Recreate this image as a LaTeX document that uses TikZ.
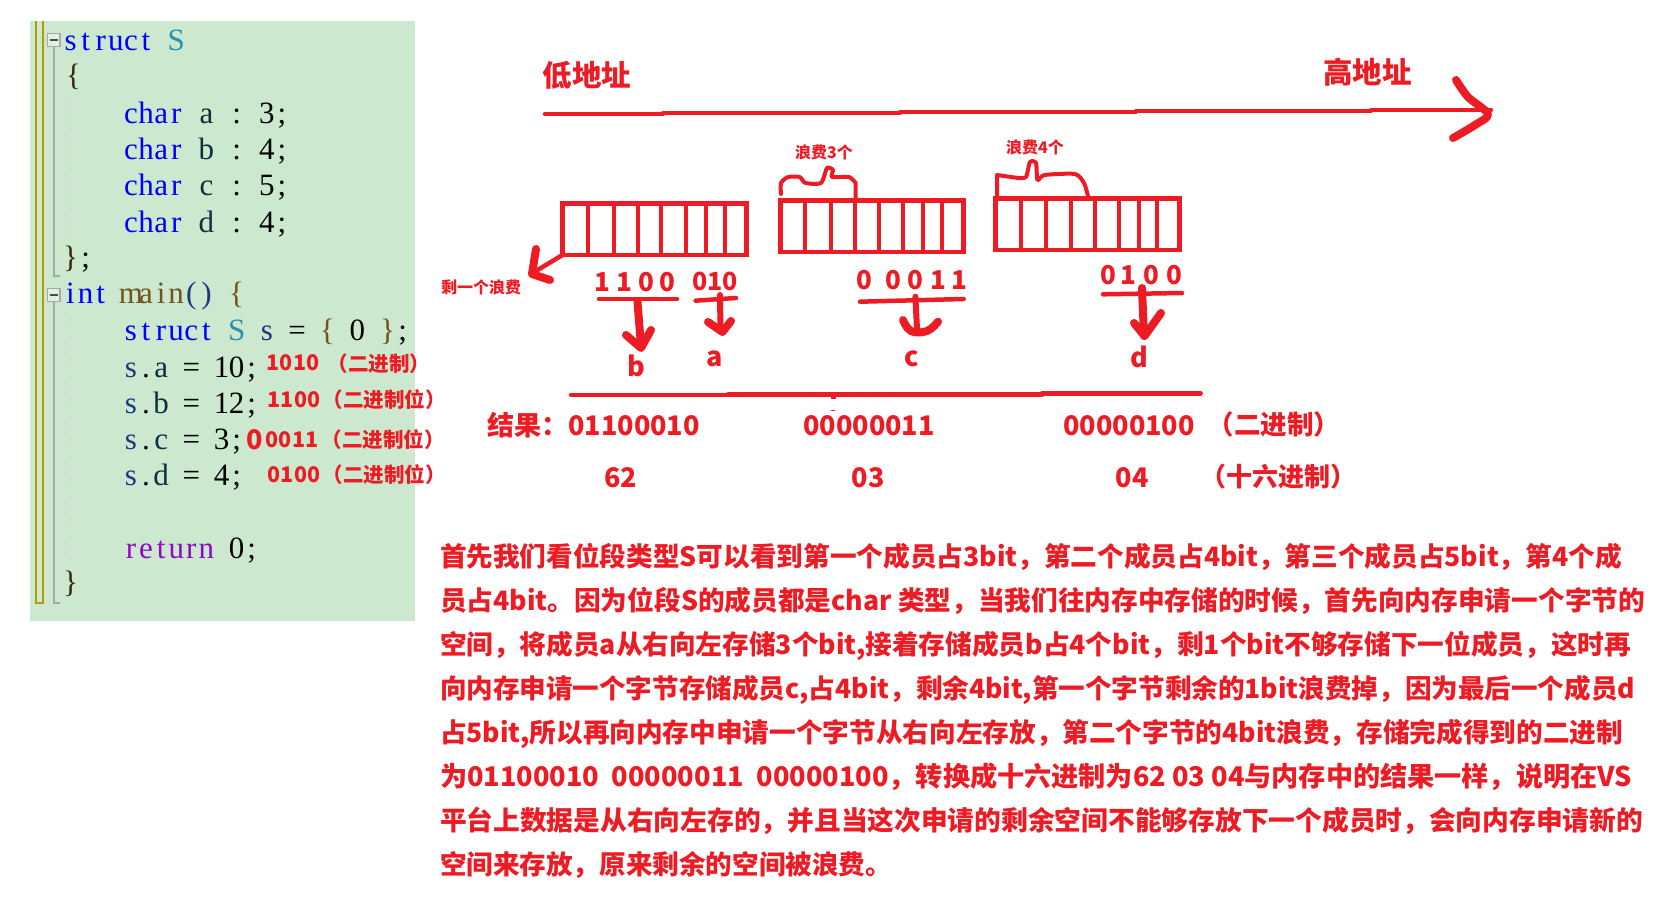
\documentclass[tikz,border=0pt]{standalone}
\usepackage{fontspec}
\setmainfont{Noto Sans CJK SC}
\newfontfamily\codefont{Liberation Serif}
\usetikzlibrary{calc}
\definecolor{rd}{HTML}{ED1C24}
\definecolor{panel}{HTML}{CCE8CF}
\definecolor{kw}{HTML}{0000FF}
\definecolor{ty}{HTML}{2B91AF}
\definecolor{fn}{HTML}{74531F}
\definecolor{var}{HTML}{1F377F}
\definecolor{mem}{HTML}{0F2F3F}
\definecolor{ret}{HTML}{8F08C4}
\definecolor{olive}{HTML}{B59A00}
\definecolor{gutter}{HTML}{A8A8A8}
\definecolor{guide}{HTML}{DDD8DF}
\makeatletter
\newcommand\monotext[1]{\@tfor\mch:=#1\do{\makebox[15.1pt][c]{\mch}}}
\makeatother
\newcount\nodeno
\newcommand\cd[4]{\global\advance\nodeno by 1
  \node[codetext,text=#3] (c\the\nodeno) at ({63+15.1*#1},{#2+0.7}) {\monotext{#4}};}
\newcommand\rt[4]{\global\advance\nodeno by 1
  \node[redtext,anchor=center] (r\the\nodeno) at (#1,#2) {\fontsize{#3}{#3}\selectfont #4};}
\newcommand\bl[3]{\global\advance\nodeno by 1
  \node[redtext,anchor=base west] (b\the\nodeno) at (440,#1) {\resizebox{#2pt}{!}{\fontsize{26.7}{30}\selectfont #3}};}
\tikzset{
  codetext/.style={anchor=base west,inner sep=0pt,outer sep=0pt,font=\codefont\fontsize{31}{31}\selectfont},
  redtext/.style={inner sep=0pt,outer sep=0pt,text=rd,font=\bfseries},
  pen/.style={draw=rd,line width=4.5pt,line cap=round,line join=round},
  midpen/.style={draw=rd,line width=6pt,line cap=round,line join=round},
  fatpen/.style={draw=rd,line width=8pt,line cap=round,line join=round},
  thinpen/.style={draw=rd,line width=4pt,line cap=round,line join=round},
  membox/.style={draw=rd,line width=4.5pt,inner sep=0pt,outer sep=0pt,minimum height=51.5pt},
  divider/.style={draw=rd,line width=4pt},
  foldbox/.style={draw=gutter,line width=1.5pt,fill=panel!60!white,minimum width=12.5pt,minimum height=13pt,inner sep=0pt},
}
\begin{document}
\begin{tikzpicture}[x=1pt,y=-1pt]
\useasboundingbox (0,0) rectangle (1674,912);
% code panel
\fill[panel] (30,21) rectangle (415,621);
\draw[olive,line width=2pt] (36,21) -- (36,603) -- (42.5,603) -- (42.5,21);
\draw[gutter,line width=1.5pt] (54,47) -- (54,276) -- (60,276);
\draw[gutter,line width=1.5pt] (54,302) -- (54,603) -- (60,603);
\draw[guide,line width=1.5pt,dash pattern=on 5pt off 5pt] (70,97) -- (70,240);
\draw[guide,line width=1.5pt,dash pattern=on 5pt off 5pt] (70,315) -- (70,565);
\node[foldbox] (fold1) at (53.5,40) {};
\draw[black!70,line width=1.2pt] (49.5,40) -- (57.5,40);
\node[foldbox] (fold2) at (53.5,295) {};
\draw[black!70,line width=1.2pt] (49.5,295) -- (57.5,295);
\cd{0}{50}{kw}{struct}\cd{7}{50}{ty}{S}
\cd{0.2}{85}{fn!50!black}{\{}
\cd{4}{123}{kw}{char}\cd{9}{123}{mem}{a}\cd{11}{123}{black}{:}\cd{13}{123}{black}{3;}
\cd{4}{159}{kw}{char}\cd{9}{159}{mem}{b}\cd{11}{159}{black}{:}\cd{13}{159}{black}{4;}
\cd{4}{195}{kw}{char}\cd{9}{195}{mem}{c}\cd{11}{195}{black}{:}\cd{13}{195}{black}{5;}
\cd{4}{232}{kw}{char}\cd{9}{232}{mem}{d}\cd{11}{232}{black}{:}\cd{13}{232}{black}{4;}
\cd{0}{267}{fn!50!black}{\}}\cd{1}{267}{black}{;}
\cd{0}{303}{kw}{int}\cd{4}{303}{fn}{main}\cd{8}{303}{var}{()}\cd{11}{303}{fn}{\{}
\cd{4}{340}{kw}{struct}\cd{11}{340}{ty}{S}\cd{13}{340}{var}{s}\cd{15}{340}{black}{=}\cd{17}{340}{fn}{\{}\cd{19}{340}{black}{0}\cd{21}{340}{fn}{\}}\cd{22}{340}{black}{;}
\cd{4}{377}{var}{s}\cd{5}{377}{black}{.}\cd{6}{377}{mem}{a}\cd{8}{377}{black}{=}\cd{10}{377}{black}{10;}
\cd{4}{413}{var}{s}\cd{5}{413}{black}{.}\cd{6}{413}{mem}{b}\cd{8}{413}{black}{=}\cd{10}{413}{black}{12;}
\cd{4}{449}{var}{s}\cd{5}{449}{black}{.}\cd{6}{449}{mem}{c}\cd{8}{449}{black}{=}\cd{10}{449}{black}{3;}
\cd{4}{485}{var}{s}\cd{5}{485}{black}{.}\cd{6}{485}{mem}{d}\cd{8}{485}{black}{=}\cd{10}{485}{black}{4;}
\cd{4}{558}{ret}{return}\cd{11}{558}{black}{0;}
\cd{0}{592}{fn!50!black}{\}}
% annotations beside the code
\rt{293}{363}{21.5}{1010}\rt{379}{364}{20.5}{（二进制）}
\rt{294}{399.5}{21.5}{1100}\rt{384}{400}{20.5}{（二进制位）}
\rt{255}{440}{27}{0}\rt{292}{439.5}{21.5}{0011}\rt{383}{440}{20.5}{（二进制位）}
\rt{294}{474.5}{21.5}{0100}\rt{384}{475}{20.5}{（二进制位）}
% address axis
\coordinate (ax0) at (545,114);
\coordinate (ax1) at (1491,110);
\draw[pen] (ax0) -- (663,114) (663,113) -- (900,113) (900,112) -- (1136,112) (1136,111) -- (1371,111) (1371,110) -- (ax1);
\draw[fatpen] plot[smooth,tension=.5] coordinates {(1456,80) (1468,97) (1488,114) (1475,125) (1453,138)};
\rt{587}{75.5}{29.5}{低地址}
\rt{1367.5}{72.5}{29.5}{高地址}
% bytes
\node[membox,minimum width=184pt,anchor=north west] (byte1) at (562.5,203.5) {};
\foreach \x in {588,614,638,661,686,705.5,724.5} \draw[divider] (\x,0 |- byte1.north) -- (\x,0 |- byte1.south);
\node[membox,minimum width=183pt,anchor=north west] (byte2) at (780.5,200.5) {};
\foreach \x in {805,831,855,879,903,923,942} \draw[divider] (\x,0 |- byte2.north) -- (\x,0 |- byte2.south);
\node[membox,minimum width=184pt,anchor=north west] (byte3) at (995.5,198.5) {};
\foreach \x in {1021,1046,1071,1095,1118.6,1138.6,1157} \draw[divider] (\x,0 |- byte3.north) -- (\x,0 |- byte3.south);
% braces
\draw[thinpen] plot[smooth,tension=.4] coordinates {(781,194) (781,183) (788,177) (799.6,177) (805.5,183) (821,183) (827,168) (833,170) (832,177) (849,177) (855.7,183)} -- (855.7,198);
\rt{824}{152}{16}{浪费3个}
\draw[thinpen] (997,196) -- (997,175) -- (1018,178) plot[smooth,tension=.4] coordinates {(1018,178) (1026,177) (1030,162) (1036,163) (1037.5,180) (1044.6,175) (1075,174) (1084,183) (1088,196)};
\rt{1035}{147}{16}{浪费4个}
% left-over arrow
\coordinate (rest) at (531,274);
\draw[pen] (byte1.south west) -- (rest);
\draw[fatpen] (536,249) -- (532,274) -- (550,280);
\rt{481}{287}{16}{剩一个浪费}
% bit labels
\foreach \x/\t in {602/1,624/1,646/0,667/0} \node[redtext,anchor=center] at (\x,282) {\fontsize{26}{26}\selectfont \t};
\rt{715}{281}{25}{010}
\foreach \x/\t in {864.5/0,893/0,915/0,938/1,959/1} \node[redtext,anchor=center] at (\x,280) {\fontsize{26}{26}\selectfont \t};
\foreach \x/\t in {1108/0,1128.6/1,1151/0,1174/0} \node[redtext,anchor=center] at (\x,275) {\fontsize{26}{26}\selectfont \t};
% group underlines and arrows
\draw[pen] (599,299) -- (677,299);
\draw[fatpen] (637.5,302) -- (641,346);
\draw[fatpen] (626,335) -- (641,348) -- (651,330);
\draw[pen] (695.6,300.7) -- (736,298);
\draw[midpen] (720,295) -- (720.5,331);
\draw[fatpen] (708,322) -- (722.5,332) -- (731,321);
\draw[pen] (860,301.7) -- (963.6,299);
\draw[midpen] (915.4,296.7) -- (917,329);
\draw[fatpen] plot[smooth,tension=.7] coordinates {(903,320) (911,331) (927,331) (938,321.7)};
\draw[pen] (1103,294.3) -- (1182,293);
\draw[fatpen] (1142,288) -- (1144,336);
\draw[fatpen] (1134,323) -- (1144.6,336) -- (1161,313);
\rt{636}{366}{27}{b}
\rt{714.6}{359}{27}{a}
\rt{911.4}{359}{27}{c}
\rt{1139}{357}{27}{d}
% result rule
\draw[pen] (571,395) -- (728,395) (728,394.5) -- (1042,394.5) (1042,393.5) -- (1200.6,393.5);
\fill[rd] (831,395) rectangle (836,399);
\fill[rd] (831,409.5) rectangle (835,410.7);
% result rows
\rt{528}{425.5}{27}{结果：}
\rt{634}{426}{27}{01100010}
\rt{869}{426}{27}{00000011}
\rt{1129}{426}{27}{00000100}
\rt{1274}{424.5}{26.5}{（二进制）}
\rt{620.6}{478}{27}{62}
\rt{868}{478}{27}{03}
\rt{1132}{478}{27}{04}
\rt{1278}{476.5}{26}{（十六进制）}
% explanation
\bl{566}{1181.7}{首先我们看位段类型S可以看到第一个成员占3bit，第二个成员占4bit，第三个成员占5bit，第4个成}
\bl{610}{1205}{员占4bit。因为位段S的成员都是char 类型，当我们往内存中存储的时候，首先向内存申请一个字节的}
\bl{654}{1191}{空间，将成员a从右向左存储3个bit,接着存储成员b占4个bit，剩1个bit不够存储下一位成员，这时再}
\bl{698}{1195}{向内存申请一个字节存储成员c,占4bit，剩余4bit,第一个字节剩余的1bit浪费掉，因为最后一个成员d}
\bl{742}{1183}{占5bit,所以再向内存中申请一个字节从右向左存放，第二个字节的4bit浪费，存储完成得到的二进制}
\bl{786}{1192}{为01100010\ \ 00000011\ \ 00000100，转换成十六进制为62 03 04与内存中的结果一样，说明在VS}
\bl{830}{1203}{平台上数据是从右向左存的，并且当这次申请的剩余空间不能够存放下一个成员时，会向内存申请新的}
\bl{874}{452}{空间来存放，原来剩余的空间被浪费。}
\end{tikzpicture}
\end{document}
